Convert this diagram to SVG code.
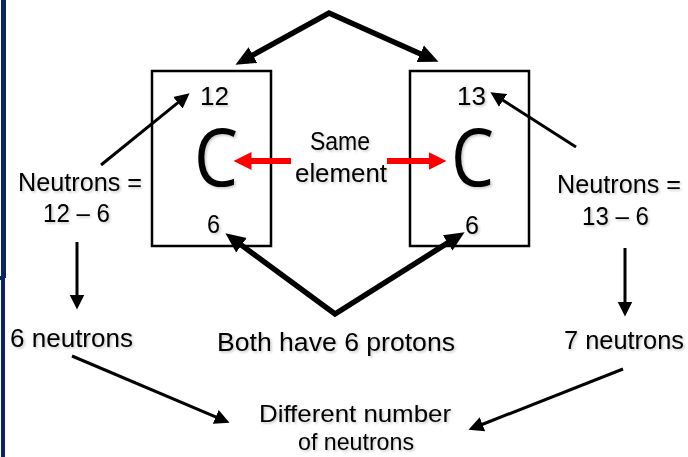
<svg xmlns="http://www.w3.org/2000/svg" width="688" height="457" viewBox="0 0 688 457">
<style>
text{font-family:"Liberation Sans",Arial,sans-serif;fill:#000;filter:url(#sh)}
.t{font-size:25px}
.d{font-size:24px}
.big{font-size:81px;font-family:"Open Sans","Noto Sans",sans-serif}
.box{fill:#fff;stroke:#000;stroke-width:2.5}
.thick{fill:none;stroke:#000;stroke-width:5.5;stroke-linejoin:miter}
.thin{fill:none;stroke:#000;stroke-width:3}
.red{fill:none;stroke:#f00;stroke-width:6}
</style>
<defs>
<filter id="sh" x="-10%" y="-20%" width="130%" height="150%">
<feDropShadow dx="1.5" dy="1.5" stdDeviation="1" flood-color="#000" flood-opacity="0.22"/>
</filter>
<marker id="hThick" markerUnits="userSpaceOnUse" viewBox="0 -10 21 20" refX="0.5" refY="0" markerWidth="21" markerHeight="20" orient="auto-start-reverse">
<path d="M0,-9 L20,0 L0,9 Z" fill="#000"/>
</marker>
<marker id="hThin" markerUnits="userSpaceOnUse" viewBox="0 -8 16 16" refX="0.5" refY="0" markerWidth="16" markerHeight="16" orient="auto">
<path d="M0,-7.5 L15,0 L0,7.5 Z" fill="#000"/>
</marker>
<marker id="hRed" markerUnits="userSpaceOnUse" viewBox="0 -10 19 20" refX="0.5" refY="0" markerWidth="19" markerHeight="20" orient="auto">
<path d="M0,-9 L18,0 L0,9 Z" fill="#f00"/>
</marker>
</defs>
<rect width="688" height="457" fill="#fff"/>
<g id="border">
<rect x="1" y="0" width="5" height="278" fill="#0b2466"/>
<rect x="1" y="278" width="4" height="179" fill="#0b2466"/>
<rect x="0" y="276" width="2" height="4" fill="#0b2466"/>
</g>
<g id="box-c12">
<rect class="box" x="152" y="71" width="119" height="175"/>
<text class="t" x="200" y="105" textLength="29" lengthAdjust="spacingAndGlyphs">12</text>
<text class="big" x="194" y="186" textLength="44" lengthAdjust="spacingAndGlyphs">C</text>
<text class="t" x="207" y="233" textLength="13" lengthAdjust="spacingAndGlyphs">6</text>
</g>
<g id="box-c13">
<rect class="box" x="410" y="71" width="119" height="175"/>
<text class="t" x="457" y="105" textLength="29" lengthAdjust="spacingAndGlyphs">13</text>
<text class="big" x="451" y="186" textLength="43" lengthAdjust="spacingAndGlyphs">C</text>
<text class="t" x="465" y="234" textLength="14" lengthAdjust="spacingAndGlyphs">6</text>
</g>
<g id="same-element">
<text class="t" x="310" y="150" textLength="60" lengthAdjust="spacingAndGlyphs">Same</text>
<text class="t" x="295" y="182" textLength="92" lengthAdjust="spacingAndGlyphs">element</text>
</g>
<g id="neutrons-left">
<text class="t" x="18" y="191" textLength="124" lengthAdjust="spacingAndGlyphs">Neutrons =</text>
<text class="t" x="43" y="222" textLength="67" lengthAdjust="spacingAndGlyphs">12 – 6</text>
</g>
<g id="neutrons-right">
<text class="t" x="557" y="193" textLength="124" lengthAdjust="spacingAndGlyphs">Neutrons =</text>
<text class="t" x="582" y="225" textLength="67" lengthAdjust="spacingAndGlyphs">13 – 6</text>
</g>
<g id="six-neutrons">
<text class="t" x="10" y="347" textLength="123" lengthAdjust="spacingAndGlyphs">6 neutrons</text>
</g>
<g id="both-protons">
<text class="t" x="217" y="351" textLength="238" lengthAdjust="spacingAndGlyphs">Both have 6 protons</text>
</g>
<g id="seven-neutrons">
<text class="t" x="564" y="349" textLength="120" lengthAdjust="spacingAndGlyphs">7 neutrons</text>
</g>
<g id="different">
<text class="d" x="259" y="422" textLength="192" lengthAdjust="spacingAndGlyphs">Different number</text>
<text class="d" x="298" y="450" textLength="116" lengthAdjust="spacingAndGlyphs">of neutrons</text>
</g>
<g id="connectors">
<path class="thick" d="M252.5,55.3 L329,13 L420.7,53.9" marker-start="url(#hThick)" marker-end="url(#hThick)"/>
<path class="thick" d="M241.1,244.9 L335,314 L448.1,242.7" marker-start="url(#hThick)" marker-end="url(#hThick)"/>
<path class="red" d="M291,161 L251,161" marker-end="url(#hRed)"/>
<path class="red" d="M387,161 L429,161" marker-end="url(#hRed)"/>
<path class="thin" d="M101,165 L178.3,102.4" marker-end="url(#hThin)"/>
<path class="thin" d="M576,147 L502.6,100.1" marker-end="url(#hThin)"/>
<path class="thin" d="M77,242 L77,295" marker-end="url(#hThin)"/>
<path class="thin" d="M625,248 L625,302" marker-end="url(#hThin)"/>
<path class="thin" d="M72,356 L216.2,417.1" marker-end="url(#hThin)"/>
<path class="thin" d="M623,369 L482,424.5" marker-end="url(#hThin)"/>
</g>
</svg>
